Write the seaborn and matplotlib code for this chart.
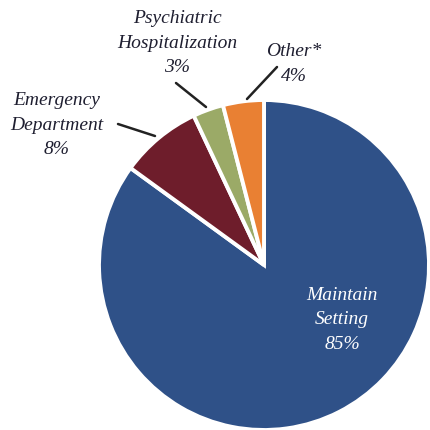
import matplotlib
matplotlib.use("Agg")
import matplotlib.pyplot as plt
import seaborn as sns

categories = ["Maintain\nSetting", "Emergency\nDepartment", "Psychiatric\nHospitalization", "Other*"]
values = [85, 8, 3, 4]
pct_labels = ["85%", "8%", "3%", "4%"]
colors = ["#2F5188", "#6E1D2B", "#9BAA67", "#E98033"]

sns.set_theme(style="white")
plt.rcParams['font.family'] = ['Liberation Serif', 'DejaVu Serif']

fig = plt.figure(figsize=(4.31, 4.31), dpi=100)
ax = fig.add_axes([0, 0, 1, 1])

H = 431
cx, cy, r = 264, H - 266, 165
wedges, _ = ax.pie(values, colors=colors, startangle=90, counterclock=False,
                   center=(cx, cy), radius=r, frame=True,
                   wedgeprops=dict(edgecolor="white", linewidth=2.8))
ax.set_xlim(0, 431)
ax.set_ylim(0, 431)
ax.set_aspect('equal')
ax.axis('off')

tc = "#1E1E30"
fs = 14
ls = 1.55
# Maintain label inside
ax.text(342, H - 320, categories[0] + "\n" + pct_labels[0], ha="center", va="center",
        color="white", fontsize=fs, style="italic", linespacing=ls)
# Emergency
ax.text(57, H - 125, categories[1] + "\n" + pct_labels[1], ha="center", va="center",
        color=tc, fontsize=fs, style="italic", linespacing=ls)
ax.plot([118, 155], [H - 125, H - 137], color="#222222", lw=1.8)
# Psychiatric
ax.text(177, H - 43, categories[2] + "\n" + pct_labels[2], ha="center", va="center",
        color=tc, fontsize=fs, style="italic", linespacing=ls)
ax.plot([176, 206], [H - 84, H - 108], color="#222222", lw=1.8)
# Other
ax.text(294, H - 64, categories[3] + "\n" + pct_labels[3], ha="center", va="center",
        color=tc, fontsize=fs, style="italic", linespacing=ls)
ax.plot([277, 247], [H - 68, H - 100], color="#222222", lw=1.8)

fig.savefig("out.png", dpi=100)
